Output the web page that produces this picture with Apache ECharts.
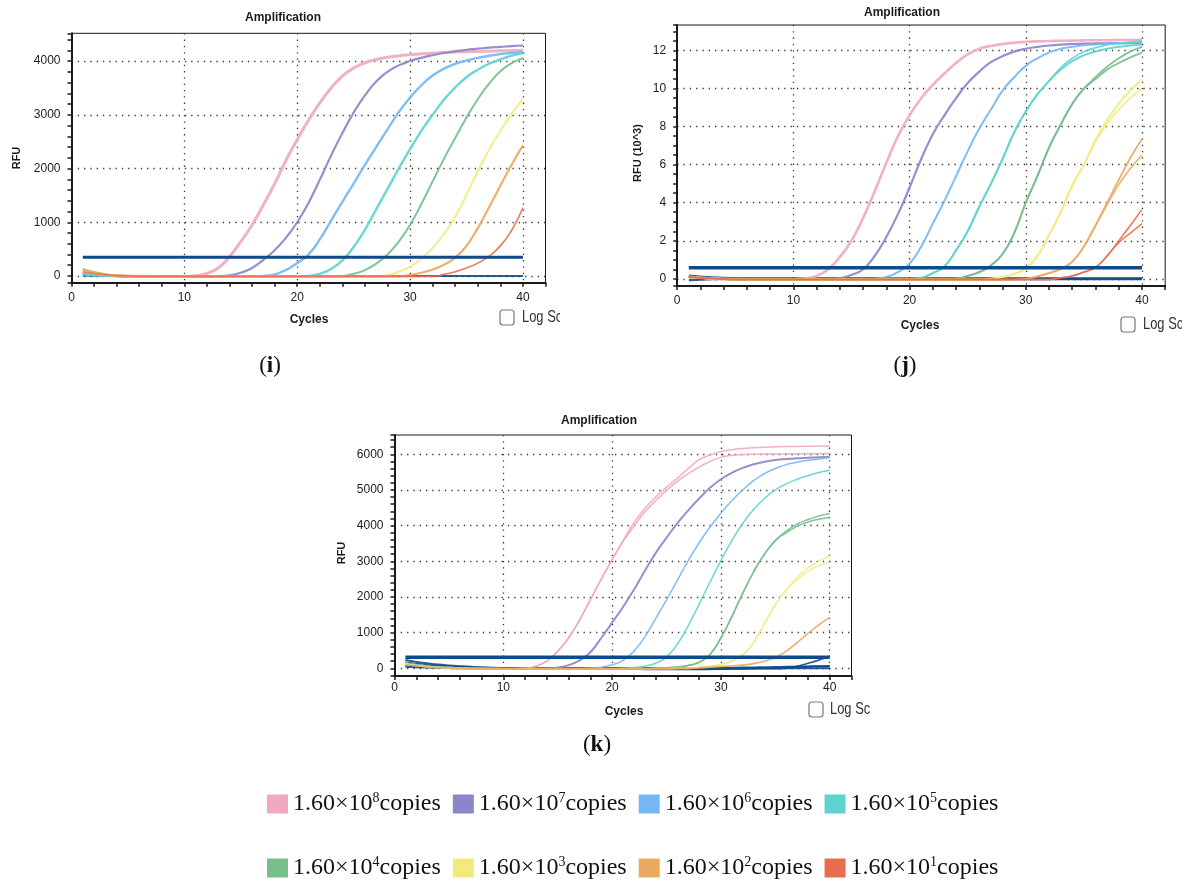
<!DOCTYPE html>
<html>
<head>
<meta charset="utf-8">
<script src="https://cdn.jsdelivr.net/npm/echarts@6/dist/echarts.min.js"></script>
<style>
  html, body { margin: 0; padding: 0; background: #fff; }
  #chart { width: 1193px; height: 881px; }
</style>
</head>
<body>
<div id="chart"></div>
<script>
// cycle numbers shared by every panel
const cycles = [1,2,3,4,5,6,7,8,9,10, 11,12,13,14,15,16,17,18,19,20, 21,22,23,24,25,26,27,28,29,30, 31,32,33,34,35,36,37,38,39,40];
const thrCycles = [1, 40];

const sampleNames = ['1.60×10^8copies', '1.60×10^7copies', '1.60×10^6copies', '1.60×10^5copies',
                     '1.60×10^4copies', '1.60×10^3copies', '1.60×10^2copies', '1.60×10^1copies'];
const copyExponents = ['8', '7', '6', '5', '4', '3', '2', '1'];
const sampleColors = ['#f0a9be', '#8b85c9', '#74b7f4', '#5dd4d0', '#77be8c', '#f3ea7c', '#eba960', '#ea6c50'];

// panel (i), RFU
const i_pink   = [60,35,15,5,0,-5,-8,-10,-10,-8, 5,50,150,360,640,950,1320,1720,2150,2540, 2900,3220,3500,3720,3870,3970,4030,4070,4100,4120, 4135,4150,4160,4170,4175,4180,4185,4190,4195,4200];
const i_purple = [40,20,8,0,-5,-8,-10,-10,-10,-10, -10,-8,-5,10,60,150,300,480,710,1000, 1360,1790,2240,2660,3040,3360,3620,3800,3920,4000, 4060,4110,4150,4180,4210,4230,4250,4265,4280,4290];
const i_blue   = [30,15,5,0,-5,-8,-8,-8,-8,-8, -8,-8,-8,-8,-8,-8,0,30,110,240, 400,680,1030,1380,1720,2070,2400,2730,3050,3320, 3550,3730,3860,3950,4010,4060,4100,4130,4150,4170];
const i_teal   = [50,25,10,0,-5,-8,-8,-8,-8,-8, -8,-8,-8,-8,-8,-8,-8,-8,-8,-8, 0,40,130,290,540,860,1240,1620,2000,2360, 2700,3000,3280,3510,3700,3840,3950,4030,4100,4150];
const i_green  = [130,70,30,10,0,-8,-8,-8,-8,-8, -8,-8,-8,-8,-8,-8,-8,-8,-8,-8, -8,-8,-8,0,40,110,230,400,640,950, 1340,1760,2180,2570,2950,3290,3580,3810,3960,4060];
const i_yellow = [90,50,20,5,0,-8,-8,-8,-8,-8, -8,-8,-8,-8,-8,-8,-8,-8,-8,-8, -8,-8,-8,-8,-8,-8,-8,20,80,170, 330,520,780,1100,1510,1950,2350,2700,3010,3300];
const i_orange = [120,70,30,10,0,-8,-8,-8,-8,-8, -8,-8,-8,-8,-8,-8,-8,-8,-8,-8, -8,-8,-8,-8,-8,-8,-8,-8,-8,20, 60,120,210,340,560,890,1280,1680,2070,2430];
const i_red    = [80,45,20,5,0,-8,-8,-8,-8,-8, -8,-8,-8,-8,-8,-8,-8,-8,-8,-8, -8,-8,-8,-8,-8,-8,-8,-8,-8,-8, -8,-8,30,80,150,240,370,560,850,1270];
const i_ntc    = [10,5,2,0,0,0,0,0,0,0, 0,0,0,0,0,0,0,0,0,0, 0,0,0,0,0,0,0,0,0,0, 0,0,0,0,0,0,0,0,0,0];
const i_thr    = [350, 350];

// panel (j), RFU (10^3)
const j_pink    = [0.1,0.05,0.02,0,-0.02,-0.03,-0.04,-0.04,-0.04,-0.03, 0.02,0.15,0.5,1.15,2.0,3.2,4.6,6.1,7.5,8.6, 9.5,10.2,10.8,11.35,11.8,12.1,12.25,12.35,12.42,12.46, 12.49,12.51,12.52,12.53,12.54,12.55,12.55,12.56,12.56,12.57];
const j_purple  = [0.12,0.06,0.02,0,-0.02,-0.04,-0.04,-0.04,-0.04,-0.04, -0.04,-0.04,-0.04,0.02,0.2,0.5,1.2,2.2,3.4,4.8, 6.3,7.6,8.6,9.5,10.3,10.9,11.4,11.7,11.95,12.1, 12.2,12.27,12.32,12.35,12.37,12.38,12.39,12.4,12.4,12.4];
const j_blue    = [0.08,0.04,0.01,-0.02,-0.04,-0.04,-0.04,-0.04,-0.04,-0.04, -0.04,-0.04,-0.04,-0.04,-0.04,-0.04,0,0.1,0.35,0.8, 1.7,2.9,4.1,5.4,6.7,7.9,8.9,9.9,10.6,11.2, 11.6,11.9,12.1,12.2,12.28,12.33,12.36,12.38,12.4,12.42];
const j_teal    = [0.1,0.05,0.02,-0.02,-0.04,-0.04,-0.04,-0.04,-0.04,-0.04, -0.04,-0.04,-0.04,-0.04,-0.04,-0.04,-0.04,-0.04,-0.04,-0.02, 0.05,0.3,0.65,1.5,2.5,3.8,5.0,6.3,7.7,8.8, 9.7,10.4,11.0,11.45,11.75,11.95,12.1,12.2,12.27,12.33];
const j_teal2   = [0.1,0.05,0.02,-0.02,-0.04,-0.04,-0.04,-0.04,-0.04,-0.04, -0.04,-0.04,-0.04,-0.04,-0.04,-0.04,-0.04,-0.04,-0.04,-0.02, 0.05,0.3,0.65,1.5,2.5,3.8,5.0,6.3,7.7,8.8, 9.7,10.4,11.1,11.6,11.95,12.15,12.3,12.4,12.45,12.5];
const j_green   = [0.1,0.05,0.02,-0.02,-0.04,-0.04,-0.04,-0.04,-0.04,-0.04, -0.04,-0.04,-0.04,-0.04,-0.04,-0.04,-0.04,-0.04,-0.04,-0.04, -0.04,-0.04,-0.04,0,0.15,0.35,0.7,1.3,2.4,4.0, 5.4,6.9,8.1,9.2,10.0,10.6,11.15,11.6,11.95,12.2];
const j_green2  = [0.1,0.05,0.02,-0.02,-0.04,-0.04,-0.04,-0.04,-0.04,-0.04, -0.04,-0.04,-0.04,-0.04,-0.04,-0.04,-0.04,-0.04,-0.04,-0.04, -0.04,-0.04,-0.04,0,0.15,0.35,0.7,1.3,2.4,4.0, 5.4,6.9,8.1,9.2,10.0,10.5,11.0,11.35,11.65,11.9];
const j_yellow  = [0.1,0.05,0.02,-0.02,-0.04,-0.04,-0.04,-0.04,-0.04,-0.04, -0.04,-0.04,-0.04,-0.04,-0.04,-0.04,-0.04,-0.04,-0.04,-0.04, -0.04,-0.04,-0.04,-0.04,-0.04,-0.04,0,0.1,0.25,0.55, 1.2,2.3,3.5,4.9,6.0,7.3,8.35,9.2,9.9,10.5];
const j_yellow2 = [0.1,0.05,0.02,-0.02,-0.04,-0.04,-0.04,-0.04,-0.04,-0.04, -0.04,-0.04,-0.04,-0.04,-0.04,-0.04,-0.04,-0.04,-0.04,-0.04, -0.04,-0.04,-0.04,-0.04,-0.04,-0.04,0,0.1,0.25,0.55, 1.2,2.3,3.5,4.9,6.0,7.2,8.15,8.9,9.5,10.0];
const j_orange  = [0.1,0.05,0.02,-0.02,-0.04,-0.04,-0.04,-0.04,-0.04,-0.04, -0.04,-0.04,-0.04,-0.04,-0.04,-0.04,-0.04,-0.04,-0.04,-0.04, -0.04,-0.04,-0.04,-0.04,-0.04,-0.04,-0.04,-0.04,-0.04,0, 0.12,0.3,0.52,0.9,1.7,2.8,4.0,5.2,6.35,7.35];
const j_orange2 = [0.1,0.05,0.02,-0.02,-0.04,-0.04,-0.04,-0.04,-0.04,-0.04, -0.04,-0.04,-0.04,-0.04,-0.04,-0.04,-0.04,-0.04,-0.04,-0.04, -0.04,-0.04,-0.04,-0.04,-0.04,-0.04,-0.04,-0.04,-0.04,0, 0.12,0.3,0.52,0.9,1.7,2.8,3.9,4.95,5.8,6.5];
const j_red     = [0.1,0.05,0.02,-0.02,-0.04,-0.04,-0.04,-0.04,-0.04,-0.04, -0.04,-0.04,-0.04,-0.04,-0.04,-0.04,-0.04,-0.04,-0.04,-0.04, -0.04,-0.04,-0.04,-0.04,-0.04,-0.04,-0.04,-0.04,-0.04,-0.04, -0.04,-0.04,0.05,0.15,0.35,0.6,1.2,2.0,2.8,3.65];
const j_red2    = [0.1,0.05,0.02,-0.02,-0.04,-0.04,-0.04,-0.04,-0.04,-0.04, -0.04,-0.04,-0.04,-0.04,-0.04,-0.04,-0.04,-0.04,-0.04,-0.04, -0.04,-0.04,-0.04,-0.04,-0.04,-0.04,-0.04,-0.04,-0.04,-0.04, -0.04,-0.04,0.05,0.15,0.35,0.6,1.2,1.9,2.4,2.9];
const j_ntc1    = [0.15,0.1,0.06,0.03,0.01,0,0,0,0,0, 0,0,0,0,0,0,0,0,0,0, 0,0,0,0,0,0,0,0,0,0, 0,0,0,0,0,0,0,0,0,0];
const j_ntc2    = [-0.08,-0.05,-0.03,-0.01,0,0,0,0,0,0, 0,0,0,0,0,0,0,-0.02,-0.04,-0.04, -0.02,0,0,0,0,0,0,0,0,0, 0,0,0,0,0,0,0,0,0,0];
const j_thr     = [0.58, 0.58];

// panel (k), RFU
const k_pink    = [150,100,60,35,20,10,5,0,-5,-10, -10,0,60,200,480,850,1350,1920,2500,3050, 3580,4080,4480,4800,5080,5330,5600,5850,5980,6075, 6130,6165,6185,6200,6210,6218,6222,6226,6228,6230];
const k_pink2   = [150,100,60,35,20,10,5,0,-5,-10, -10,0,60,200,480,850,1350,1920,2500,3050, 3550,3980,4380,4700,4990,5240,5460,5640,5800,5920, 5970,5990,6000,6005,6010,6012,6015,6017,6018,6020];
const k_purple  = [120,80,50,30,15,5,0,-5,-10,-10, -10,-10,-10,-10,20,90,220,450,850,1280, 1720,2200,2730,3230,3660,4070,4430,4760,5060,5300, 5480,5620,5720,5790,5840,5870,5890,5905,5920,5930];
const k_blue    = [100,70,40,20,10,0,-10,-10,-10,-10, -10,-10,-10,-10,-10,-10,-10,0,30,100, 220,480,880,1390,1920,2470,3020,3520,3960,4350, 4700,5000,5260,5460,5600,5710,5780,5830,5870,5900];
const k_teal    = [130,90,55,30,15,5,0,-10,-10,-10, -10,-10,-10,-10,-10,-10,-10,-10,-10,-10, 0,20,60,140,320,680,1200,1800,2420,3020, 3580,4060,4450,4760,5000,5170,5300,5400,5490,5550];
const k_green   = [150,100,60,35,20,10,0,-10,-10,-10, -10,-10,-10,-10,-10,-10,-10,-10,-10,-10, -10,-10,-10,0,15,35,80,170,390,850, 1450,2100,2700,3200,3580,3850,4040,4170,4270,4340];
const k_green2  = [150,100,60,35,20,10,0,-10,-10,-10, -10,-10,-10,-10,-10,-10,-10,-10,-10,-10, -10,-10,-10,0,15,35,80,170,390,850, 1450,2100,2700,3200,3580,3800,3980,4100,4180,4230];
const k_yellow  = [120,80,50,25,10,0,-10,-10,-10,-10, -10,-10,-10,-10,-10,-10,-10,-10,-10,-10, -10,-10,-10,-10,-10,0,10,30,60,110, 200,380,720,1250,1780,2200,2550,2820,3000,3150];
const k_yellow2 = [120,80,50,25,10,0,-10,-10,-10,-10, -10,-10,-10,-10,-10,-10,-10,-10,-10,-10, -10,-10,-10,-10,-10,0,10,30,60,110, 200,380,720,1250,1780,2200,2480,2720,2880,2980];
const k_orange  = [100,70,40,20,10,0,-10,-10,-10,-10, -10,-10,-10,-10,-10,-10,-10,-10,-10,-10, -10,-10,-10,-10,-10,-10,-10,10,30,50, 70,90,130,200,300,480,720,980,1220,1420];
const k_ntc1    = [230,180,140,105,80,60,42,28,15,5, 0,-5,-10,-10,-10,-10,-10,-10,-10,-10, -15,-20,-25,-25,-30,-30,-30,-30,-25,-20, -15,-10,0,10,20,30,40,45,50,55];
const k_ntc2    = [160,125,95,70,50,35,22,12,5,0, -5,-5,-5,-5,-5,-5,-5,-5,-5,-5, -5,-5,-5,-5,-5,-5,-5,-5,-5,-5, -5,-5,-5,-5,-5,0,0,0,0,0];
const k_ntc3    = [90,70,50,35,22,12,5,0,-5,-5, -5,-5,-5,-5,-5,-5,-5,-5,-5,-5, -5,-5,-5,-5,-5,-5,-5,-5,-5,-5, -5,-5,-5,-5,-5,0,60,140,230,330];
const k_ntc4    = [40,30,20,12,5,0,0,0,0,0, 0,0,0,0,0,0,0,0,0,0, 0,0,0,0,0,0,0,0,0,10, 15,20,25,30,35,40,45,50,60,65];
const k_thr     = [310, 310];

const NAVY = '#0f4a8a';
const INK = '#1a1a1a';

function curve(gi, idx, vals, width) {
  return {
    name: sampleNames[idx], type: 'line', xAxisIndex: gi, yAxisIndex: gi,
    data: cycles.map((c, i) => [c, vals[i]]),
    smooth: 0.5, symbol: 'none', showSymbol: false, silent: true,
    itemStyle: { color: sampleColors[idx] },
    lineStyle: { color: sampleColors[idx], width: width, opacity: 0.92 },
    z: 3
  };
}
function dark(gi, vals, width) {
  return {
    name: 'ntc', type: 'line', xAxisIndex: gi, yAxisIndex: gi,
    data: cycles.map((c, i) => [c, vals[i]]),
    smooth: 0.5, symbol: 'none', silent: true,
    lineStyle: { color: NAVY, width: width, opacity: 0.9 }, z: 2
  };
}
function thr(gi, vals, width) {
  return {
    name: 'threshold', type: 'line', xAxisIndex: gi, yAxisIndex: gi,
    data: thrCycles.map((c, i) => [c, vals[i]]),
    symbol: 'none', silent: true,
    lineStyle: { color: NAVY, width: width }, z: 5
  };
}

const gridBoxes = [
  { left: 71.5, top: 33.3, width: 474, height: 249.4 },
  { left: 677.2, top: 25, width: 488, height: 261 },
  { left: 394.5, top: 435, width: 457, height: 241 }
];
const yRanges = [[-125, 4517, 5, 23], [-0.38, 13.35, 7, 27], [-216, 6541, 5, 33]];
const xLabelMargin = [9, 9, 6];
const plain = v => String(v);

const xAxes = [], yAxes = [];
gridBoxes.forEach((g, gi) => {
  xAxes.push({
    gridIndex: gi, type: 'value', min: 0, max: 42, interval: 10,
    axisLine: { show: true, onZero: false, lineStyle: { color: INK, width: 2 } },
    axisTick: { show: false },
    axisLabel: { color: '#222', fontSize: 12, fontFamily: 'Liberation Sans', margin: xLabelMargin[gi], showMaxLabel: false, formatter: plain },
    splitLine: { show: true, showMinLine: false, showMaxLine: false, lineStyle: { color: '#333', width: 1.3, type: [1.3, 5] } }
  });
  const r = yRanges[gi];
  yAxes.push({
    gridIndex: gi, type: 'value', min: r[0], max: r[1], splitNumber: r[2],
    axisLine: { show: true, onZero: false, lineStyle: { color: INK, width: 2 } },
    axisTick: { show: false },
    axisLabel: { color: '#222', fontSize: 12, fontFamily: 'Liberation Sans', margin: 11, showMinLabel: false, showMaxLabel: false, formatter: plain },
    splitLine: { show: true, showMinLine: false, showMaxLine: false, lineStyle: { color: '#333', width: 1.3, type: [1.3, 5] } }
  });
});
// tick-only axes for the fine tick marks
gridBoxes.forEach((g, gi) => {
  xAxes.push({
    gridIndex: gi, type: 'value', min: 0, max: 42, interval: 2, position: 'bottom',
    axisLine: { show: false, onZero: false }, axisLabel: { show: false }, splitLine: { show: false },
    axisTick: { show: true, length: 4, lineStyle: { color: INK, width: 1.5 } }
  });
  const r = yRanges[gi];
  yAxes.push({
    gridIndex: gi, type: 'value', min: r[0], max: r[1], splitNumber: r[3], position: 'left',
    axisLine: { show: false, onZero: false }, axisLabel: { show: false }, splitLine: { show: false },
    axisTick: { show: true, length: 4, lineStyle: { color: INK, width: 1.5 } }
  });
});

const series = [
  dark(0, i_ntc, 2),
  curve(0, 0, i_pink, 3), curve(0, 1, i_purple, 2.2), curve(0, 2, i_blue, 2.4), curve(0, 3, i_teal, 2.4),
  curve(0, 4, i_green, 2), curve(0, 5, i_yellow, 2), curve(0, 6, i_orange, 2.2), curve(0, 7, i_red, 1.6),
  thr(0, i_thr, 3),

  dark(1, j_ntc1, 3), dark(1, j_ntc2, 2),
  curve(1, 0, j_pink, 2.6), curve(1, 1, j_purple, 2.2), curve(1, 2, j_blue, 2),
  curve(1, 3, j_teal, 2), curve(1, 3, j_teal2, 1.6),
  curve(1, 4, j_green, 1.8), curve(1, 4, j_green2, 1.8),
  curve(1, 5, j_yellow, 2), curve(1, 5, j_yellow2, 1.6),
  curve(1, 6, j_orange, 1.8), curve(1, 6, j_orange2, 1.6),
  curve(1, 7, j_red, 1.6), curve(1, 7, j_red2, 1.4),
  thr(1, j_thr, 3.5),

  dark(2, k_ntc1, 2), dark(2, k_ntc2, 2), dark(2, k_ntc3, 1.6), dark(2, k_ntc4, 2),
  curve(2, 0, k_pink, 1.5), curve(2, 0, k_pink2, 1.5), curve(2, 1, k_purple, 2), curve(2, 2, k_blue, 1.5),
  curve(2, 3, k_teal, 1.5), curve(2, 4, k_green, 1.5), curve(2, 4, k_green2, 1.5),
  curve(2, 5, k_yellow, 1.3), curve(2, 5, k_yellow2, 1.3), curve(2, 6, k_orange, 1.6),
  thr(2, k_thr, 3.5)
];

function legendRow(names, top) {
  return {
    data: names, left: 262, top: top, orient: 'horizontal', icon: 'rect',
    itemWidth: 21, itemHeight: 19, itemGap: 12, selectedMode: false,
    itemStyle: { borderWidth: 0 },
    formatter: function (name) {
      const k = sampleNames.indexOf(name);
      return '{a|1.60×10}{s|' + copyExponents[k] + '}{a|copies}';
    },
    textStyle: {
      color: '#111',
      rich: {
        a: { fontFamily: 'Liberation Serif', fontSize: 24, color: '#111', lineHeight: 26 },
        s: { fontFamily: 'Liberation Serif', fontSize: 14, color: '#111', lineHeight: 18, verticalAlign: 'top' }
      }
    }
  };
}

function label(x, y, text, font, rot) {
  return { type: 'text', x: x, y: y, rotation: rot || 0, silent: true,
    style: { text: text, x: 0, y: 0, font: font, fill: '#1a1a1a', align: 'center', verticalAlign: 'middle' } };
}
function checkbox(x, y, tx, maskX) {
  return [
    { type: 'rect', silent: true, shape: { x: x, y: y, width: 14, height: 15, r: 3 },
      style: { fill: '#fdfdfd', stroke: '#7a7a7a', lineWidth: 1.2 } },
    { type: 'text', x: tx, y: y + 7.5, scaleX: 0.76, silent: true,
      style: { text: 'Log Scale', x: 0, y: 0, font: '17px Liberation Sans', fill: '#333', align: 'left', verticalAlign: 'middle' } },
    { type: 'rect', silent: true, shape: { x: maskX, y: y - 6, width: 60, height: 28 }, style: { fill: '#fff' } }
  ];
}
function caption(x, y, letter) {
  return { type: 'text', x: x, y: y, silent: true,
    style: { text: '{p|(}{b|' + letter + '}{p|)}', x: 0, y: 0, align: 'center', verticalAlign: 'middle',
      rich: { p: { font: '23px Liberation Serif', fill: '#111' }, b: { font: 'bold 23px Liberation Serif', fill: '#111' } } } };
}

const graphics = [
  label(283, 18, 'Amplification', 'bold 12px Liberation Sans'),
  label(902, 13, 'Amplification', 'bold 12px Liberation Sans'),
  label(599, 421, 'Amplification', 'bold 12px Liberation Sans'),
  label(17, 158, 'RFU', 'bold 11px Liberation Sans', Math.PI / 2),
  label(638, 153, 'RFU (10^3)', 'bold 11px Liberation Sans', Math.PI / 2),
  label(342, 553, 'RFU', 'bold 11px Liberation Sans', Math.PI / 2),
  label(309, 320, 'Cycles', 'bold 12px Liberation Sans'),
  label(920, 326, 'Cycles', 'bold 12px Liberation Sans'),
  label(624, 712, 'Cycles', 'bold 12px Liberation Sans'),
  caption(270, 366, 'i'),
  caption(905, 366, 'j'),
  caption(597, 745, 'k')
].concat(checkbox(500, 310, 522, 560), checkbox(1121, 317, 1143, 1182), checkbox(809, 702, 830, 870));

const chart = echarts.init(document.getElementById('chart'), null, { renderer: 'canvas' });
chart.setOption({
  animation: false,
  backgroundColor: '#fff',
  textStyle: { fontFamily: 'Liberation Sans' },
  grid: gridBoxes.map(g => Object.assign({ show: true, borderColor: INK, borderWidth: 1, backgroundColor: 'transparent', containLabel: false, outerBoundsMode: 'none' }, g)),
  xAxis: xAxes,
  yAxis: yAxes,
  legend: [legendRow(sampleNames.slice(0, 4), 786), legendRow(sampleNames.slice(4), 850)],
  graphic: graphics,
  series: series
});
</script>
</body>
</html>
